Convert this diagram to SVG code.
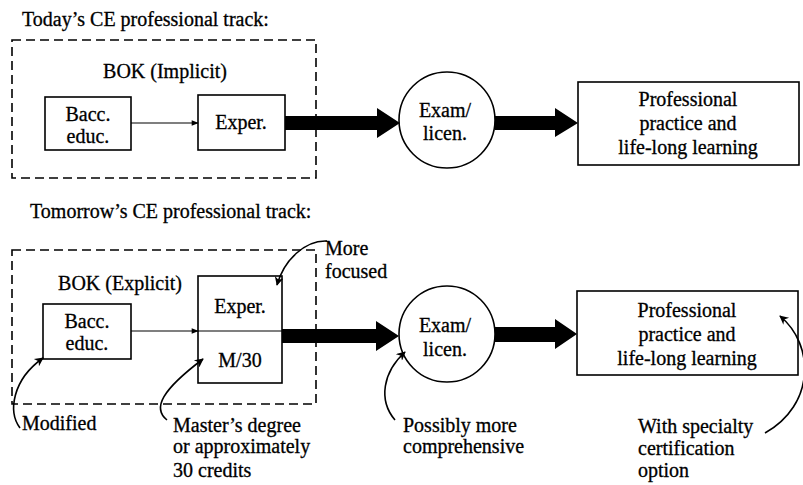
<svg xmlns="http://www.w3.org/2000/svg" width="803" height="485" viewBox="0 0 803 485">
<style>
text{font-family:"Liberation Serif","Times New Roman",serif;font-size:20px;fill:#000;stroke:#000;stroke-width:0.3}
.c{text-anchor:middle}
.box{fill:#fff;stroke:#000;stroke-width:1.6}
.dash{fill:none;stroke:#000;stroke-width:1.6;stroke-dasharray:9 5}
.thin{fill:none;stroke:#000;stroke-width:1.2}
.curve{fill:none;stroke:#000;stroke-width:1.6}
.big{fill:#000;stroke:none}
</style>
<defs>
<marker id="ah" viewBox="0 0 10 10" refX="9" refY="5" markerWidth="9" markerHeight="7" markerUnits="userSpaceOnUse" orient="auto">
<path d="M0,1 L10,5 L0,9 z" fill="#000"/>
</marker>
<marker id="ca" viewBox="0 0 10 10" refX="9" refY="5" markerWidth="11" markerHeight="9" markerUnits="userSpaceOnUse" orient="auto">
<path d="M0,0 L10,5 L0,10 L3,5 z" fill="#000"/>
</marker>
</defs>

<text x="22" y="26">Today’s CE professional track:</text>
<text x="30" y="218">Tomorrow’s CE professional track:</text>

<g id="bok-today">
<rect class="dash" x="12" y="40" width="304" height="138"/>
<text class="c" x="165" y="78">BOK (Implicit)</text>
</g>
<g id="bacc-today">
<rect class="box" x="45" y="97" width="86" height="53"/>
<text class="c" x="88" y="121">Bacc.</text>
<text class="c" x="88" y="143">educ.</text>
</g>
<g id="exper-today">
<rect class="box" x="198" y="95" width="87" height="55"/>
<text class="c" x="241" y="129">Exper.</text>
</g>
<g id="exam-today">
<circle class="box" cx="447" cy="120" r="48"/>
<text class="c" x="445" y="117">Exam/</text>
<text class="c" x="445" y="140">licen.</text>
</g>
<g id="practice-today">
<rect class="box" x="578" y="82" width="221" height="83"/>
<text class="c" x="688" y="106">Professional</text>
<text class="c" x="688" y="130">practice and</text>
<text class="c" x="688" y="154">life-long learning</text>
</g>

<g id="bok-tomorrow">
<rect class="dash" x="12" y="250" width="304" height="154"/>
<text class="c" x="120" y="290">BOK (Explicit)</text>
</g>
<g id="bacc-tomorrow">
<rect class="box" x="43" y="304" width="88" height="55"/>
<text class="c" x="87" y="328">Bacc.</text>
<text class="c" x="87" y="350">educ.</text>
</g>
<g id="exper-tomorrow">
<rect class="box" x="198" y="276" width="84" height="107"/>
<line class="thin" x1="198" y1="331" x2="282" y2="331"/>
<text class="c" x="240" y="313">Exper.</text>
<text class="c" x="240" y="367">M/30</text>
</g>
<g id="exam-tomorrow">
<circle class="box" cx="447" cy="334" r="48"/>
<text class="c" x="445" y="332">Exam/</text>
<text class="c" x="445" y="356">licen.</text>
</g>
<g id="practice-tomorrow">
<rect class="box" x="577" y="291" width="221" height="84"/>
<text class="c" x="687" y="317">Professional</text>
<text class="c" x="687" y="341">practice and</text>
<text class="c" x="687" y="365">life-long learning</text>
</g>

<g id="notes">
<text x="325" y="255">More</text>
<text x="325" y="278">focused</text>
<text x="22" y="430">Modified</text>
<text x="173" y="432">Master’s degree</text>
<text x="173" y="453">or approximately</text>
<text x="173" y="477">30 credits</text>
<text x="403" y="432">Possibly more</text>
<text x="403" y="453">comprehensive</text>
<text x="638" y="433">With specialty</text>
<text x="638" y="455">certification</text>
<text x="638" y="477">option</text>
</g>

<g id="connectors">
<line class="thin" x1="131" y1="123" x2="198" y2="123" marker-end="url(#ah)"/>
<polygon class="big" points="285,116 377,116 377,108 400,123 377,138 377,130 285,130"/>
<polygon class="big" points="495,116 555,116 555,108 578,123 555,137 555,130 495,130"/>
<line class="thin" x1="131" y1="331" x2="198" y2="331" marker-end="url(#ah)"/>
<polygon class="big" points="282,329 376,329 376,321 399,336 376,351 376,343 282,343"/>
<polygon class="big" points="495,327 555,327 555,319 577,334 555,349 555,342 495,342"/>
<path class="curve" d="M327,241 C305,240 284,260 277,285" marker-end="url(#ca)"/>
<path class="curve" d="M20,428 C8,412 12,380 43,358" marker-end="url(#ca)"/>
<path class="curve" d="M167,420 C152,408 162,390 203,359" marker-end="url(#ca)"/>
<path class="curve" d="M395,420 C378,400 383,372 405,352" marker-end="url(#ca)"/>
<path class="curve" d="M765,433 C815,405 815,345 780,316" marker-end="url(#ca)"/>
</g>
</svg>
